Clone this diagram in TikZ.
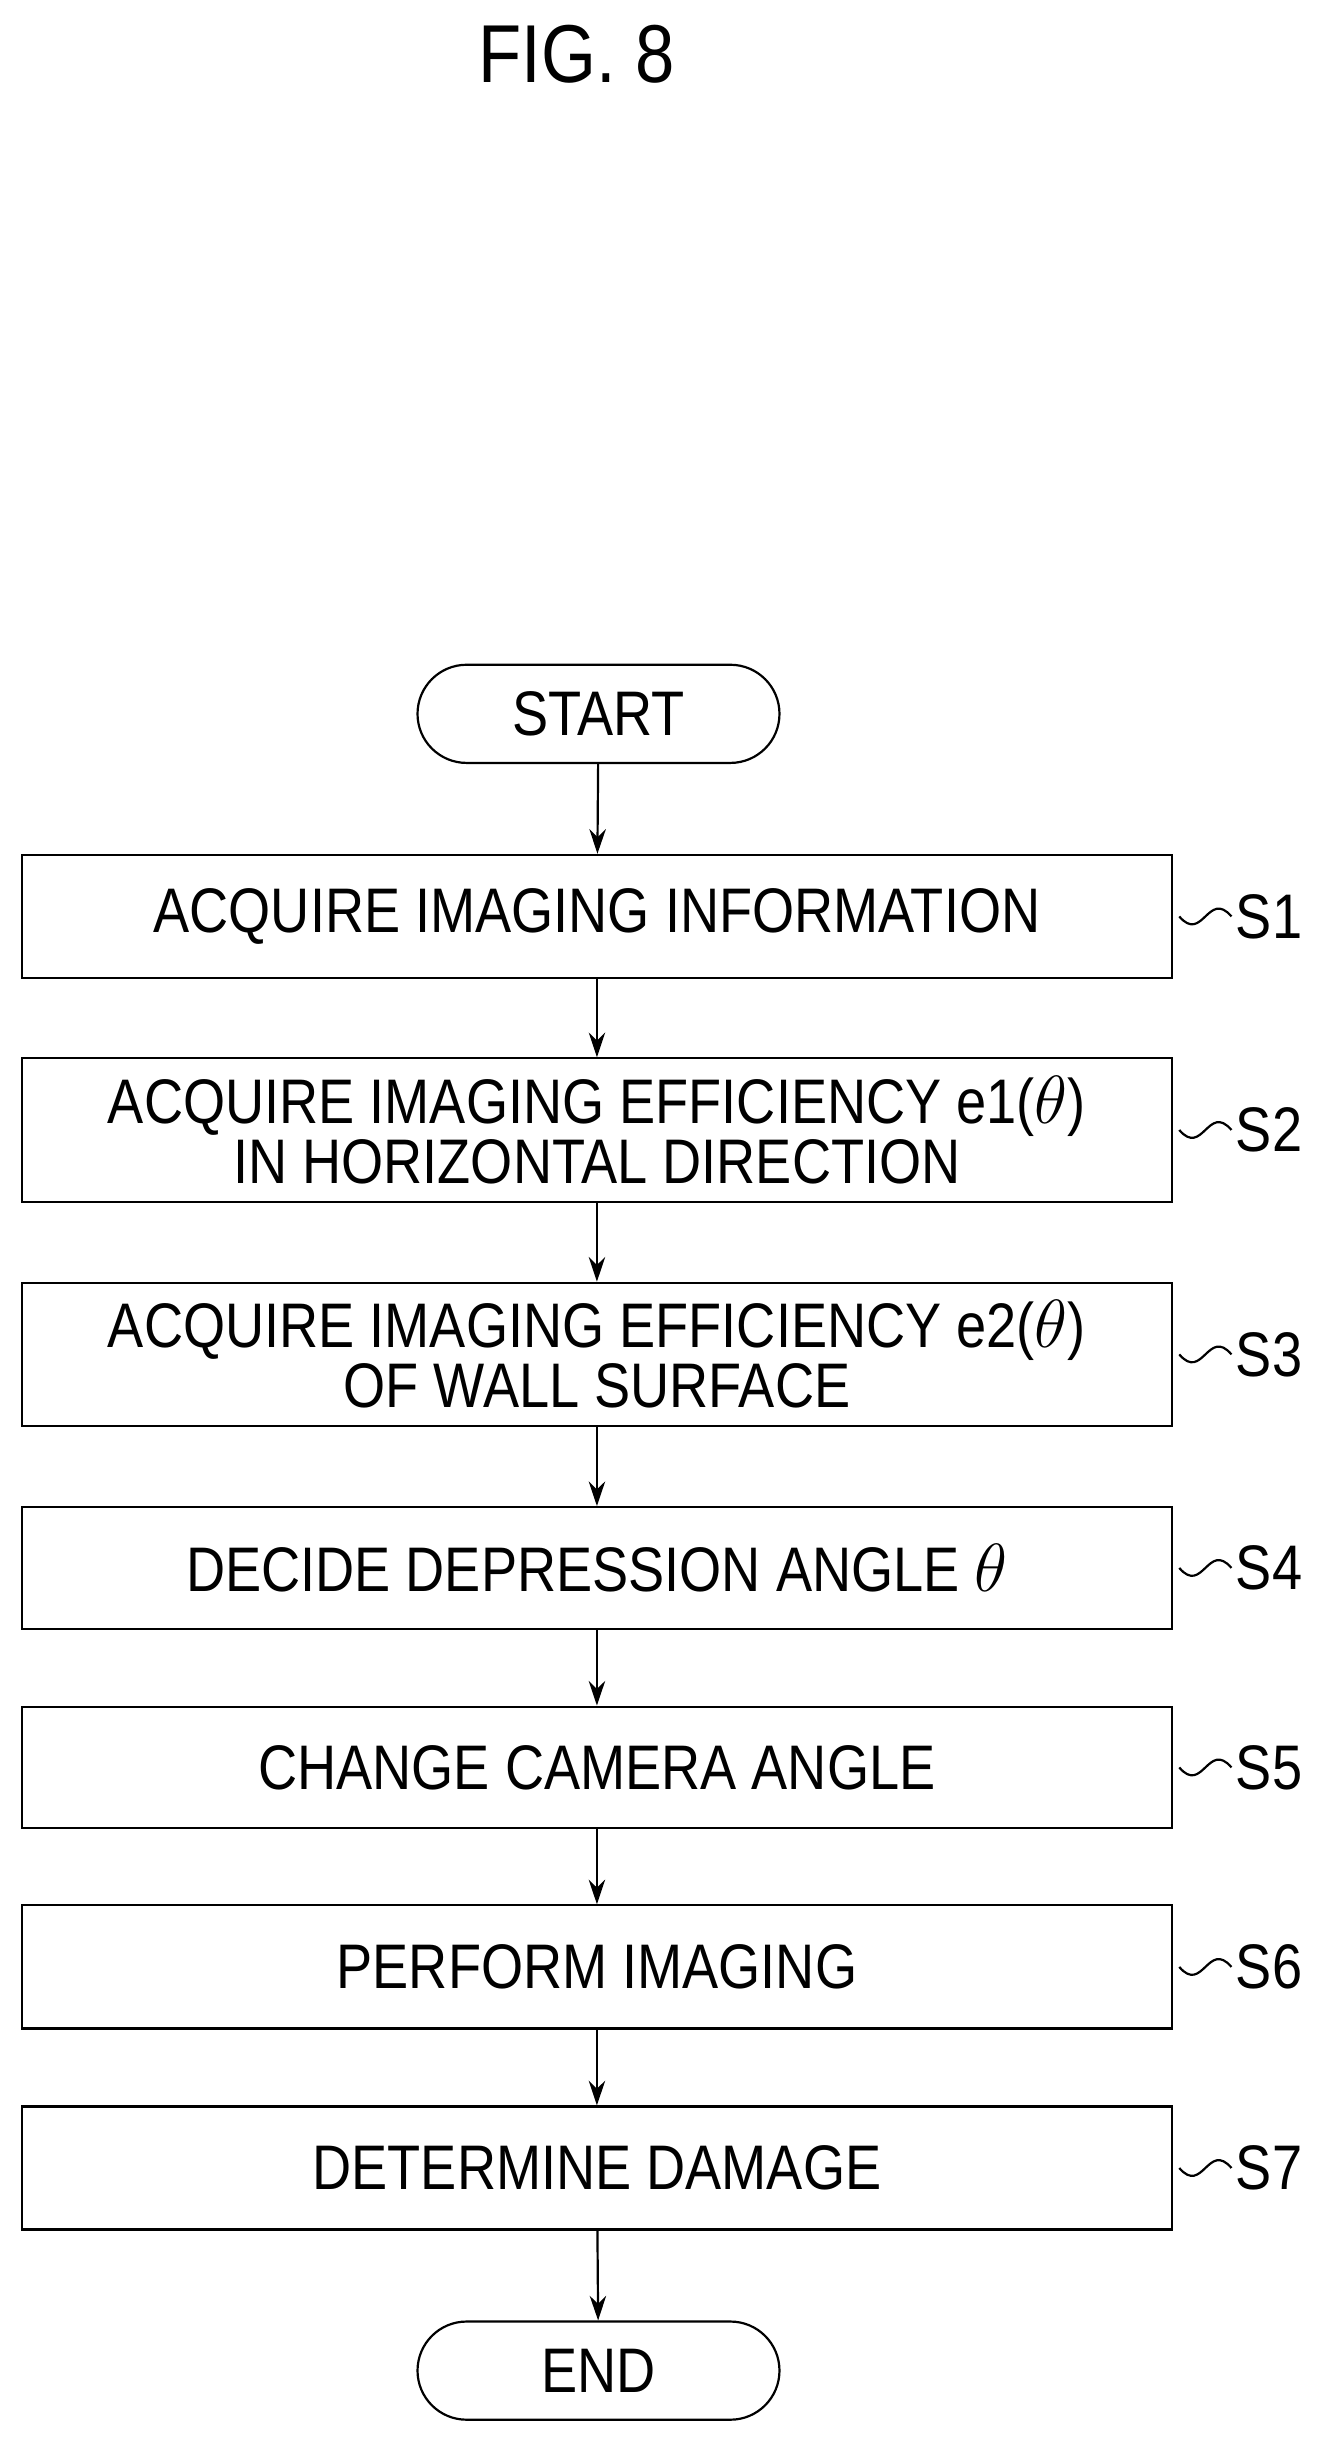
\documentclass[tikz,border=0pt]{standalone}
\usepackage{fontspec}
\setmainfont[FakeStretch=0.86]{Liberation Sans}
\usetikzlibrary{arrows.meta, positioning, shapes.misc}

\begin{document}
\begin{tikzpicture}[x=0.02cm,y=-0.02cm,>={Stealth[length=9pt,width=6pt]},
        every node/.style={font=\fontsize{23}{26}\selectfont},
        stepbox/.style={draw,thick,minimum width=14.76cm,align=center,inner sep=0pt},
        term/.style={draw,thick,rounded rectangle,minimum width=4.88cm,minimum height=1.26cm},
        tag/.style={anchor=west,inner sep=0pt}]
    \useasboundingbox (0,0) rectangle (850,1579);
    \node at (370,35) {\fontsize{30}{34}\selectfont FIG. 8};

    \node[term] (start) at (384,458) {START};
    \node[stepbox,minimum height=1.58cm] (s1) at (383,588) {ACQUIRE IMAGING INFORMATION};
    \node[stepbox,minimum height=1.84cm] (s2) at (383,725) {ACQUIRE IMAGING EFFICIENCY e1($\theta$)\\[-4pt]IN HORIZONTAL DIRECTION};
    \node[stepbox,minimum height=1.84cm] (s3) at (383,869) {ACQUIRE IMAGING EFFICIENCY e2($\theta$)\\[-4pt]OF WALL SURFACE};
    \node[stepbox,minimum height=1.56cm] (s4) at (383,1006) {DECIDE DEPRESSION ANGLE $\theta$};
    \node[stepbox,minimum height=1.56cm] (s5) at (383,1134) {CHANGE CAMERA ANGLE};
    \node[stepbox,minimum height=1.58cm] (s6) at (383,1262) {PERFORM IMAGING};
    \node[stepbox,minimum height=1.58cm] (s7) at (383,1391) {DETERMINE DAMAGE};
    \node[term] (end) at (384,1521) {END};

    \foreach \a/\b in {start/s1,s1/s2,s2/s3,s3/s4,s4/s5,s5/s6,s6/s7,s7/end}
      \draw[->,thick] (\a) -- (\b);

    % step labels with wavy leaders
    \foreach \s/\t in {s1/S1,s2/S2,s3/S3,s4/S4,s5/S5,s6/S6,s7/S7} {
      \node[tag] (l\s) at ([xshift=0.8cm]\s.east) {\t};
      \draw[thick] ([xshift=0.08cm]\s.east) .. controls +(0.3cm,-0.35cm) and +(-0.3cm,0.35cm) .. ([xshift=-0.05cm]l\s.west);
    }
\end{tikzpicture}
\end{document}
